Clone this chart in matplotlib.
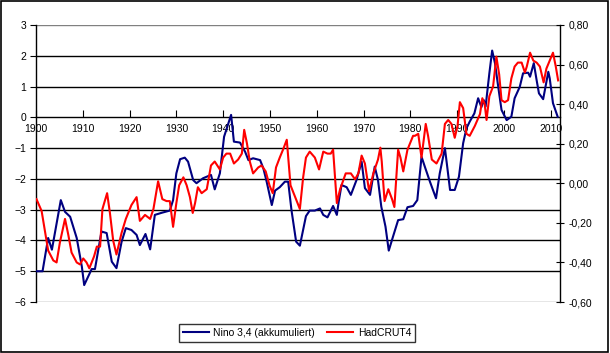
import matplotlib.pyplot as plt
from matplotlib.ticker import FuncFormatter
from matplotlib.patches import Rectangle

plt.rcParams['font.family'] = ['Liberation Sans', 'DejaVu Sans']

# Nino 3,4 (akkumuliert), left axis
nino_years = [1900.1, 1901.4, 1902.6, 1903.4, 1905.3, 1906.2, 1907.3, 1908.7, 1909.8, 1910.3,
              1911.9, 1912.6, 1914.0, 1915.1, 1916.2, 1917.2, 1918.3, 1919.2, 1920.4, 1921.5,
              1922.2, 1923.4, 1924.4, 1925.4, 1926.9, 1928.6, 1929.3, 1930.0, 1930.8, 1931.8,
              1932.5, 1933.6, 1934.3, 1935.7, 1937.4, 1938.2, 1939.3, 1940.2, 1941.7, 1942.3,
              1943.6, 1944.7, 1945.4, 1946.4, 1947.9, 1948.6, 1949.3, 1950.4, 1951.1, 1952.1,
              1953.2, 1953.9, 1954.6, 1955.6, 1956.4, 1957.7, 1958.5, 1959.6, 1960.7, 1961.4,
              1962.3, 1963.5, 1964.3, 1964.7, 1965.3, 1966.4, 1967.3, 1968.5, 1969.6, 1970.3,
              1971.4, 1972.4, 1973.1, 1973.8, 1974.7, 1975.4, 1976.3, 1977.4, 1978.5, 1979.4,
              1980.6, 1981.5, 1982.4, 1983.1, 1984.2, 1985.5, 1986.3, 1987.4, 1987.8, 1988.5,
              1989.5, 1990.4, 1991.3, 1992.0, 1992.7, 1993.7, 1994.5, 1995.2, 1995.7, 1996.1,
              1996.9, 1997.5, 1998.1, 1998.8, 1999.5, 2000.6, 2001.6, 2002.3, 2003.4, 2004.1,
              2005.2, 2005.6, 2006.4, 2007.0, 2007.5, 2008.4, 2009.5, 2009.8, 2010.5, 2011.5]
nino_vals = [-5.0, -5.0, -3.92, -4.3, -2.69, -3.07, -3.23, -3.92, -4.85, -5.45,
             -4.93, -4.93, -3.71, -3.76, -4.69, -4.9, -4.04, -3.6, -3.66, -3.82,
             -4.15, -3.79, -4.29, -3.17, -3.1, -3.03, -2.69, -1.82, -1.36, -1.31,
             -1.44, -2.04, -2.14, -1.98, -1.87, -2.34, -1.82, -0.63, 0.08, -0.79,
             -0.82, -1.12, -1.39, -1.33, -1.39, -1.66, -2.09, -2.85, -2.38, -2.27,
             -2.09, -2.09, -3.01, -4.04, -4.17, -3.21, -3.03, -3.03, -2.96, -3.17,
             -3.25, -2.88, -3.17, -2.74, -2.2, -2.27, -2.52, -2.04, -1.44, -2.3,
             -2.52, -1.6, -2.04, -2.9, -3.55, -4.33, -3.88, -3.34, -3.31, -2.92,
             -2.88, -2.69, -1.28, -1.6, -2.09, -2.63, -1.82, -1.0, -1.49, -2.36,
             -2.36, -1.93, -0.84, -0.36, -0.14, 0.13, 0.62, 0.33, 0.56, 0.35,
             1.43, 2.17, 1.76, 0.99, 0.24, -0.09, 0.02, 0.62, 0.99, 1.43,
             1.45, 1.32, 1.76, 1.21, 0.78, 0.59, 1.48, 1.27, 0.46, 0.02]

# HadCRUT4, right axis
had_years = [1900.1, 1901.2, 1901.9, 1902.6, 1903.7, 1904.4, 1905.1, 1906.2, 1906.9, 1907.6,
             1908.7, 1909.4, 1910.1, 1910.8, 1911.4, 1912.4, 1913.0, 1913.7, 1914.2, 1915.2,
             1915.8, 1916.5, 1917.2, 1918.3, 1919.2, 1920.4, 1921.5, 1922.2, 1923.3, 1924.4,
             1925.1, 1926.1, 1927.0, 1927.9, 1928.6, 1929.3, 1930.0, 1930.6, 1931.5, 1932.2,
             1932.9, 1933.5, 1934.0, 1934.6, 1935.4, 1936.5, 1937.4, 1938.2, 1939.3, 1940.0,
             1940.7, 1941.5, 1942.3, 1943.2, 1944.0, 1944.5, 1945.1, 1945.7, 1946.4, 1947.5,
             1948.2, 1949.1, 1949.9, 1950.6, 1951.3, 1952.1, 1952.8, 1953.6, 1954.4, 1955.4,
             1956.4, 1957.1, 1957.7, 1958.5, 1959.6, 1960.5, 1961.4, 1962.3, 1963.0, 1963.5,
             1964.3, 1965.0, 1966.2, 1967.3, 1968.2, 1968.9, 1969.6, 1970.3, 1971.2, 1972.1,
             1973.1, 1973.6, 1973.9, 1974.5, 1975.3, 1976.1, 1976.6, 1977.4, 1977.9, 1978.5,
             1979.4, 1980.6, 1981.0, 1981.7, 1982.4, 1983.3, 1983.8, 1984.6, 1985.6, 1986.7,
             1987.4, 1988.1, 1988.8, 1989.5, 1990.1, 1990.6, 1991.3, 1992.0, 1992.7, 1993.8,
             1994.9, 1995.4, 1995.9, 1996.3, 1996.9, 1997.7, 1998.4, 1999.0, 1999.5, 2000.2,
             2000.9, 2001.6, 2002.3, 2003.0, 2003.8, 2004.5, 2004.9, 2005.6, 2006.3, 2007.0,
             2007.7, 2008.5, 2009.1, 2009.8, 2010.5, 2011.1, 2011.6]
had_vals = [-0.08, -0.14, -0.24, -0.34, -0.39, -0.40, -0.30, -0.18, -0.26, -0.35,
            -0.40, -0.41, -0.38, -0.40, -0.43, -0.37, -0.32, -0.32, -0.13, -0.05,
            -0.15, -0.29, -0.36, -0.25, -0.18, -0.11, -0.07, -0.19, -0.16, -0.18,
            -0.13, 0.01, -0.08, -0.09, -0.09, -0.22, -0.10, -0.01, 0.03, -0.01,
            -0.07, -0.15, -0.10, -0.02, -0.05, -0.03, 0.09, 0.11, 0.07, 0.13,
            0.15, 0.15, 0.10, 0.12, 0.15, 0.27, 0.20, 0.11, 0.05, 0.08,
            0.09, 0.06, -0.01, -0.05, 0.08, 0.13, 0.17, 0.22, -0.01, -0.07,
            -0.13, 0.03, 0.13, 0.16, 0.13, 0.07, 0.16, 0.15, 0.15, 0.17,
            -0.10, -0.03, 0.05, 0.05, 0.02, 0.05, 0.14, 0.10, -0.04, 0.05,
            0.12, 0.18, 0.11, -0.09, -0.03, -0.08, -0.12, 0.17, 0.13, 0.06,
            0.17, 0.24, 0.24, 0.25, 0.13, 0.30, 0.24, 0.12, 0.10, 0.15,
            0.30, 0.32, 0.30, 0.23, 0.29, 0.41, 0.38, 0.25, 0.24, 0.29,
            0.35, 0.43, 0.40, 0.32, 0.44, 0.49, 0.64, 0.55, 0.42, 0.41,
            0.42, 0.53, 0.59, 0.61, 0.61, 0.56, 0.59, 0.66, 0.62, 0.61,
            0.59, 0.51, 0.58, 0.62, 0.66, 0.59, 0.52]

year_ticks = list(range(1900, 2011, 10))
left_ticks = list(range(-6, 4))
right_ticks = [-0.6, -0.4, -0.2, 0.0, 0.2, 0.4, 0.6, 0.8]

fig = plt.figure(figsize=(6.1, 3.53), dpi=100)
fig.patches.append(Rectangle((0.002, 0.003), 0.995, 0.994, transform=fig.transFigure,
                             fill=False, edgecolor='black', linewidth=1.2))

ax = fig.add_axes([36 / 610, 51 / 353, 524 / 610, 277 / 353])
ax.set_xlim(1900, 2012)
ax.set_ylim(-6, 3)

# horizontal grid lines (outer ones grey like the plot border)
for v in left_ticks:
    if v in (3, -6):
        ax.axhline(v, color='#808080', lw=1, zorder=1)
    elif v != 0:
        ax.axhline(v, color='black', lw=1, zorder=1)

ax.spines['top'].set_visible(False)
ax.spines['right'].set_visible(False)
ax.spines['bottom'].set_position(('data', 0))
ax.spines['bottom'].set_linewidth(1)
ax.spines['left'].set_linewidth(1)

ax.set_xticks(year_ticks)
ax.set_xticklabels([str(y) for y in year_ticks])
ax.tick_params(axis='x', direction='in', length=5, pad=5, labelsize=7.5)
ax.set_yticks(left_ticks)
ax.tick_params(axis='y', direction='out', length=4, pad=3, labelsize=7.5)

l1, = ax.plot(nino_years, nino_vals, color='#000080', lw=1.5, zorder=3,
              label='Nino 3,4 (akkumuliert)')

ax2 = ax.twinx()
ax2.set_ylim(-0.6, 0.8)
ax2.set_yticks(right_ticks)
ax2.yaxis.set_major_formatter(FuncFormatter(lambda v, p: f'{v:.2f}'.replace('.', ',')))
ax2.tick_params(axis='y', direction='inout', length=6, pad=3, labelsize=7.5)
for s in ('top', 'left', 'bottom'):
    ax2.spines[s].set_visible(False)
ax2.spines['right'].set_linewidth(1)
l2, = ax2.plot(had_years, had_vals, color='#FF0000', lw=1.5, zorder=2, label='HadCRUT4')

leg = fig.legend(handles=[l1, l2], loc='center', bbox_to_anchor=(297 / 610, 20 / 353),
                 ncol=2, fontsize=7.5, frameon=True, fancybox=False, handlelength=2.5,
                 columnspacing=1.2, borderpad=0.4, handletextpad=0.4)
leg.get_frame().set_edgecolor('black')
leg.get_frame().set_linewidth(1)

fig.savefig('out.png', dpi=100)
